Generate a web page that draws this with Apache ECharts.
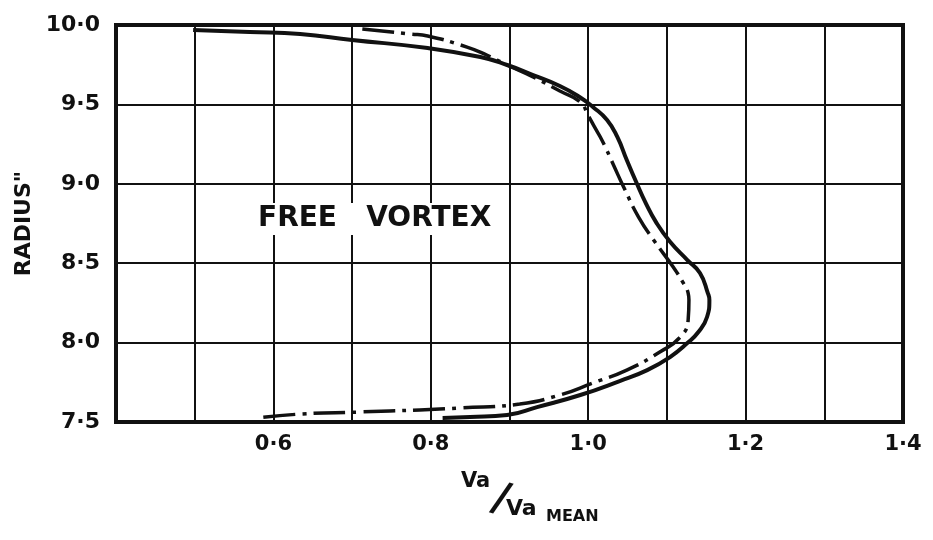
<!DOCTYPE html>
<html>
<head>
<meta charset="utf-8">
<script src="https://cdn.jsdelivr.net/npm/echarts@6/dist/echarts.min.js"></script>
<style>
  html, body { margin: 0; padding: 0; background: #fff; }
  #chart { width: 933px; height: 540px; }
</style>
</head>
<body>
<div id="chart"></div>
<script>
// Va / Va mean against radius (inches)
const solidCurve = [
    [0.498, 9.969], [0.570, 9.956], [0.634, 9.943], [0.700, 9.906], [0.796, 9.855],
    [0.863, 9.798], [0.897, 9.748], [0.930, 9.685], [0.964, 9.616], [0.989, 9.547],
    [1.006, 9.484], [1.024, 9.402], [1.037, 9.295], [1.049, 9.150], [1.061, 9.011],
    [1.073, 8.880], [1.086, 8.760], [1.104, 8.635], [1.126, 8.520], [1.142, 8.438],
    [1.152, 8.312], [1.154, 8.268], [1.151, 8.161], [1.140, 8.067], [1.126, 7.997],
    [1.104, 7.909], [1.075, 7.827], [1.040, 7.758], [0.990, 7.670], [0.935, 7.594],
    [0.897, 7.544], [0.850, 7.531], [0.815, 7.525]
];
const dashDotCurve = [
    [0.713, 9.975], [0.774, 9.943], [0.796, 9.931], [0.846, 9.861], [0.871, 9.811],
    [0.897, 9.748], [0.930, 9.673], [0.964, 9.584], [0.990, 9.515], [1.000, 9.430],
    [1.008, 9.358], [1.018, 9.270], [1.032, 9.120], [1.045, 8.980], [1.064, 8.790],
    [1.084, 8.640], [1.108, 8.476], [1.120, 8.382], [1.127, 8.312], [1.128, 8.268],
    [1.127, 8.142], [1.117, 8.035], [1.091, 7.941], [1.049, 7.827], [1.006, 7.746],
    [0.964, 7.670], [0.913, 7.613], [0.837, 7.588], [0.786, 7.576], [0.710, 7.563],
    [0.634, 7.550], [0.580, 7.525]
];
const xTickLabels = { 6: '0·6', 8: '0·8', 10: '1·0', 12: '1·2', 14: '1·4' };
const yTickLabels = { 15: '7·5', 16: '8·0', 17: '8·5', 18: '9·0', 19: '9·5', 20: '10·0' };
const noteText = 'FREE   VORTEX';
const yAxisTitle = 'RADIUS"';

const ink = '#111';
const font = '"DejaVu Sans", sans-serif';

const chart = echarts.init(document.getElementById('chart'));

const option = {
    animation: false,
    backgroundColor: '#fff',
    grid: {
        left: 116,
        right: 30,
        top: 25,
        bottom: 118,
        show: true,
        borderColor: ink,
        borderWidth: 4,
        z: 3
    },
    xAxis: {
        type: 'value',
        min: 0.4,
        max: 1.4,
        interval: 0.1,
        axisLine: { show: false },
        axisTick: { show: false },
        splitLine: { lineStyle: { color: ink, width: 2 } },
        axisLabel: {
            margin: 12,
            color: ink,
            fontFamily: font,
            fontWeight: 'bold',
            fontSize: 21,
            formatter: v => xTickLabels[Math.round(v * 10)] || ''
        }
    },
    yAxis: {
        type: 'value',
        min: 7.5,
        max: 10,
        interval: 0.5,
        name: yAxisTitle,
        nameLocation: 'middle',
        nameRotate: 90,
        nameGap: 79,
        nameTextStyle: { color: ink, fontFamily: font, fontWeight: 'bold', fontSize: 22 },
        axisLine: { show: false },
        axisTick: { show: false },
        splitLine: { lineStyle: { color: ink, width: 2 } },
        axisLabel: {
            margin: 16,
            color: ink,
            fontFamily: font,
            fontWeight: 'bold',
            fontSize: 22,
            formatter: v => yTickLabels[Math.round(v * 2)] || ''
        }
    },
    series: [
        {
            name: 'solid',
            type: 'line',
            data: solidCurve,
            smooth: 0.5,
            showSymbol: false,
            lineStyle: { color: ink, width: 4 },
            z: 4
        },
        {
            name: 'dashdot',
            type: 'line',
            data: dashDotCurve,
            smooth: 0.5,
            showSymbol: false,
            lineStyle: { color: ink, width: 3.5, type: [32, 7, 4, 7] },
            z: 4
        }
    ],
    graphic: [
        {
            type: 'text',
            left: 254,
            top: 203,
            z: 10,
            style: {
                text: noteText,
                fill: ink,
                font: 'bold 28px ' + font,
                backgroundColor: '#fff',
                padding: [2, 4]
            }
        },
        {
            type: 'text', left: 461, top: 471, z: 10,
            style: { text: 'Va', fill: ink, font: 'bold 21px ' + font }
        },
        {
            type: 'text', left: 487, top: 478, z: 10, rotation: -0.3,
            style: { text: '/', fill: ink, font: 'bold 42px ' + font }
        },
        {
            type: 'text', left: 506, top: 498, z: 10,
            style: { text: 'Va', fill: ink, font: 'bold 22px ' + font }
        },
        {
            type: 'text', left: 546, top: 509, z: 10,
            style: { text: 'MEAN', fill: ink, font: 'bold 16px ' + font }
        }
    ]
};

chart.setOption(option);
</script>
</body>
</html>
